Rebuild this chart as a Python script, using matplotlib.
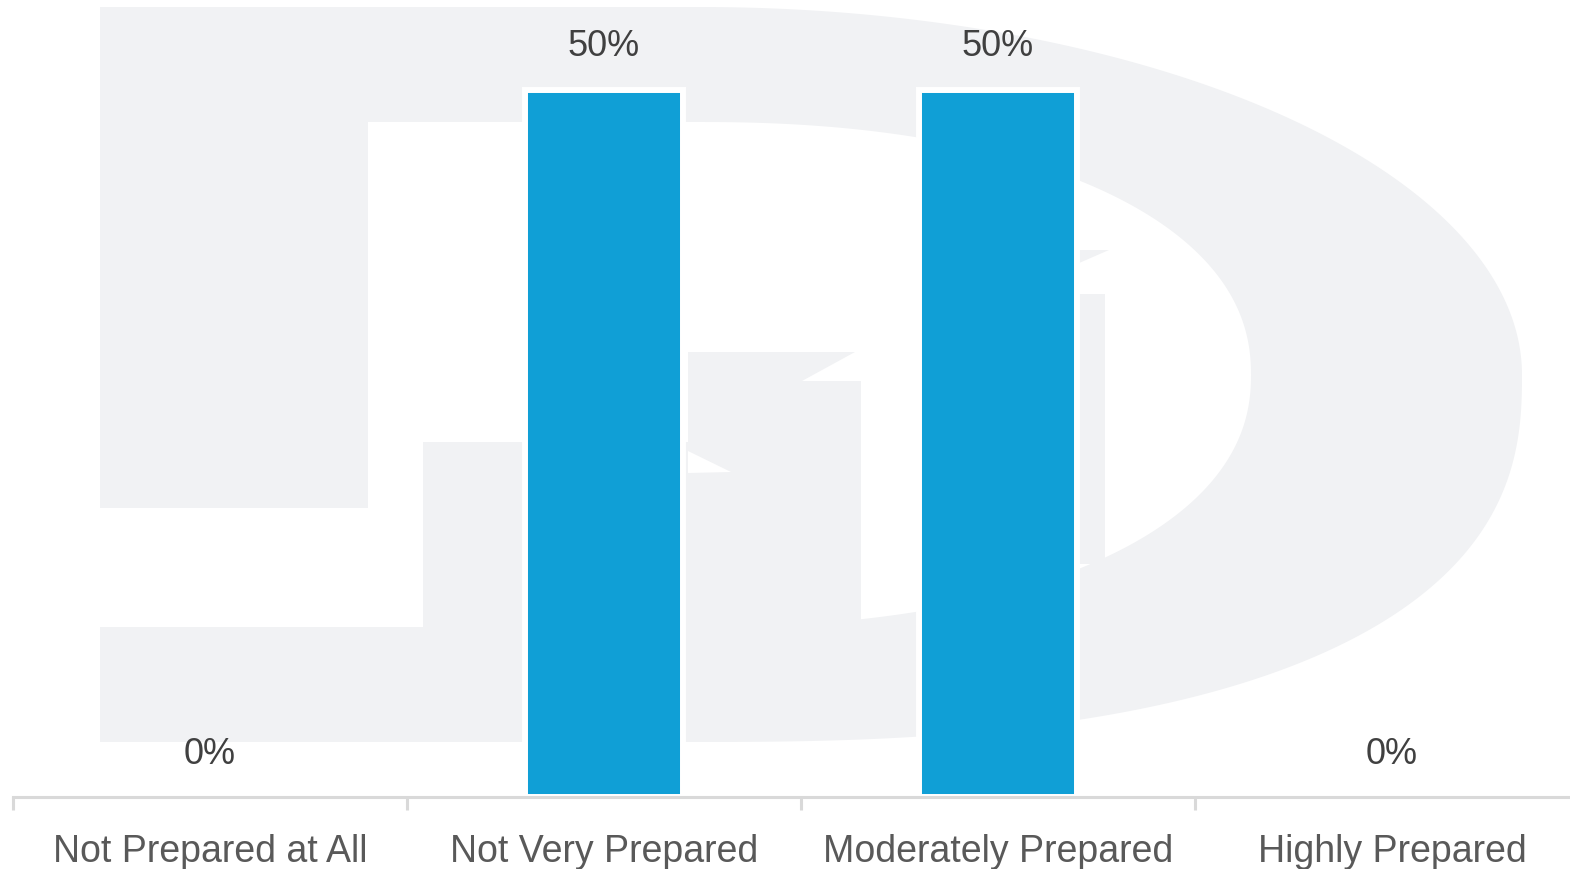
import numpy as np
import matplotlib.pyplot as plt
from matplotlib.patches import Polygon

plt.rcParams['font.family'] = ['Liberation Sans', 'DejaVu Sans']

categories = ['Not Prepared at All', 'Not Very Prepared', 'Moderately Prepared', 'Highly Prepared']
shares = [0.0, 0.5, 0.5, 0.0]
value_labels = ['0%', '50%', '50%', '0%']

bar_color = '#109fd6'
logo_gray = '#f1f2f4'

W, H = 1570, 870
fig = plt.figure(figsize=(W / 100, H / 100), dpi=100)


def arc(x0, yc, a, b, n, t0, t1, num=120):
    # superellipse arc, angle measured from +x, y pointing down
    t = np.linspace(t0, t1, num)
    c, s = np.cos(t), np.sin(t)
    xs = x0 + a * np.sign(c) * np.abs(c) ** (2 / n)
    ys = yc + b * np.sign(s) * np.abs(s) ** (2 / n)
    return np.column_stack([xs, ys])


# faint logo watermark behind the chart (pixel coordinates)
bg = fig.add_axes([0, 0, 1, 1], zorder=0)
bg.set_xlim(0, W)
bg.set_ylim(H, 0)
bg.axis('off')

outer = np.vstack([
    [[100, 8]],
    arc(700, 376, 822, 368, 2.0, -np.pi / 2, 0),
    arc(700, 376, 822, 367, 2.5, 0, np.pi / 2),
    [[100, 743]],
])
bg.add_patch(Polygon(outer, closed=True, fc=logo_gray, ec='none'))

hole = np.vstack([
    [[100, 509], [368, 509], [368, 123]],
    arc(700, 376, 551, 253, 2.2, -np.pi / 2, 0),
    arc(700, 376, 551, 252, 2.2, 0, np.pi / 2),
    [[100, 628]],
])
bg.add_patch(Polygon(hole, closed=True, fc='white', ec='none'))

pieces = [
    [[423, 443], [700, 443], [700, 628], [423, 628]],
    [[688, 353], [855, 353], [802, 382], [861, 382], [861, 660], [688, 660]],
    [[1070, 295], [1105, 295], [1105, 565], [1070, 565]],
    [[1070, 251], [1109, 251], [1070, 268]],
]
for p in pieces:
    bg.add_patch(Polygon(p, closed=True, fc=logo_gray, ec='none'))
bg.add_patch(Polygon([[688, 452], [731, 473], [688, 474]], closed=True, fc='white', ec='none'))

# main chart
left, base = 13, 798
step = 394
top_val_px = 90.5
ymax = 0.5 * base / (base - top_val_px)
ax = fig.add_axes([left / W, (H - base) / H, 4 * step / W, base / H], zorder=1)
ax.patch.set_alpha(0)

x = np.arange(len(categories))
ax.bar(x, shares, width=0.40, color=bar_color, edgecolor='white', linewidth=4.3)

for xi, v, lab in zip(x, shares, value_labels):
    ax.annotate(lab, (xi, v), xytext=(0, 24.5), textcoords='offset points',
                ha='center', va='baseline', fontsize=26, color='#404040')

ax.set_xlim(-0.5, len(categories) - 0.5)
ax.set_ylim(0, ymax)

for s in ['top', 'right', 'left']:
    ax.spines[s].set_visible(False)
ax.spines['bottom'].set_color('#d9d9d9')
ax.spines['bottom'].set_linewidth(2.2)

ax.set_yticks([])
ax.set_xticks(x)
ax.set_xticklabels(categories)
ax.set_xticks(np.arange(len(categories) + 1) - 0.5, minor=True)
ax.tick_params(axis='x', which='major', length=0, pad=26, labelsize=27, labelcolor='#595959')
ax.tick_params(axis='x', which='minor', length=9.5, width=2.2, color='#d9d9d9', direction='out')

fig.savefig('out.png', dpi=100)
